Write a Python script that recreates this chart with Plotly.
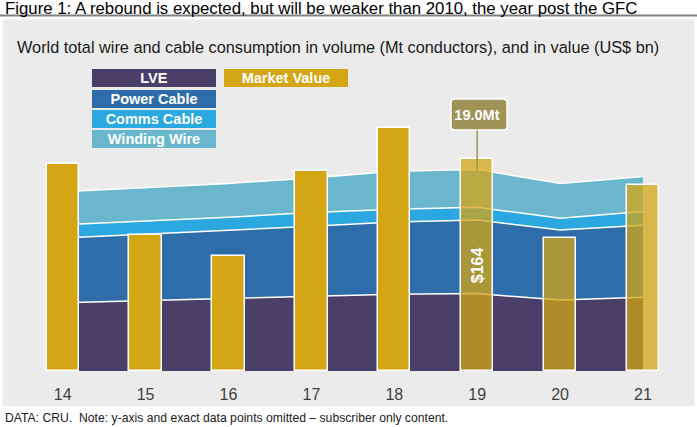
import plotly.graph_objects as go

# ---- data ----
years = ["14", "15", "16", "17", "18", "19", "20", "21"]
lve = [6.45, 6.65, 6.8, 7.05, 7.25, 7.3, 6.7, 6.95]
power_cable = [6.1, 6.25, 6.45, 6.6, 6.8, 6.95, 6.6, 6.8]
comms_cable = [1.25, 1.25, 1.25, 1.3, 1.2, 1.2, 1.1, 1.3]
winding_wire = [3.1, 3.15, 3.2, 3.25, 3.6, 3.55, 3.3, 3.3]
market_value = [160, 105, 89, 155, 188, 164, 103, 144]
forecast = [False, False, False, False, False, True, True, True]
callout_year = "19"

# ---- styling ----
W, H = 697, 427
FONT = "Liberation Sans, Arial, sans-serif"
C_LVE = "#4A3F68"
C_POWER = "#2E6DAA"
C_COMMS = "#2AA8DF"
C_WIND = "#69B6CD"
C_GOLD = "212,165,20"
C_OLIVE = "#9F9358"
PANEL = "#EBEBEB"


def px(x):
    return x / W


def py(y):
    return 1 - y / H


fig = go.Figure()

layers = [("LVE", lve, C_LVE), ("Power Cable", power_cable, C_POWER),
          ("Comms Cable", comms_cable, C_COMMS), ("Winding Wire", winding_wire, C_WIND)]
for name, vals, col in layers:
    fig.add_trace(go.Scatter(
        x=years, y=vals, name=name, stackgroup="vol", mode="lines",
        line=dict(color="white", width=1.5), fillcolor=col, hoverinfo="skip",
        showlegend=False, yaxis="y"))

bar_colors = [f"rgba({C_GOLD},0.75)" if f else f"rgba({C_GOLD},1)" for f in forecast]
fig.add_trace(go.Bar(
    x=years, y=market_value, name="Market Value", width=0.39,
    marker=dict(color=bar_colors, line=dict(color="white", width=1.5)),
    yaxis="y2", showlegend=False, hoverinfo="skip"))

# axes geometry
plot_top, plot_bottom = 60, 371
plot_left, plot_right = 20, 685
vol_per_px = 0.09434
val_per_px = 0.7736
plot_h = plot_bottom - plot_top
idx_first_px = 62.7
step_px = 82.9
x_lo = -(idx_first_px - plot_left) / step_px
x_hi = x_lo + (plot_right - plot_left) / step_px

fig.update_layout(
    width=W, height=H,
    margin=dict(l=0, r=0, t=0, b=0),
    paper_bgcolor="white", plot_bgcolor="rgba(0,0,0,0)",
    bargap=0,
    font=dict(family=FONT),
    xaxis=dict(domain=[px(plot_left), px(plot_right)], range=[x_lo, x_hi],
               type="category", tickvals=years, ticktext=years,
               showgrid=False, zeroline=False, showline=False,
               ticks="outside", ticklen=9, tickcolor="rgba(0,0,0,0)",
               tickfont=dict(size=16, color="#404040", family=FONT), automargin=False),
    yaxis=dict(domain=[py(plot_bottom), py(plot_top)], range=[0, plot_h * vol_per_px],
               visible=False, showgrid=False, zeroline=False),
    yaxis2=dict(domain=[py(plot_bottom), py(plot_top)], overlaying="y",
                range=[0, plot_h * val_per_px], visible=False, showgrid=False,
                zeroline=False),
    showlegend=False,
)

shapes = []
# grey panel
shapes.append(dict(type="rect", xref="paper", yref="paper", layer="below",
                   x0=px(2.7), x1=px(694.5), y0=py(406), y1=py(19.5),
                   fillcolor=PANEL, line=dict(width=0)))
# line under title
shapes.append(dict(type="line", xref="paper", yref="paper", layer="below",
                   x0=0, x1=1, y0=py(15.6), y1=py(15.6),
                   line=dict(color="#808080", width=2)))

# callout box (rounded)
bx0, bx1, by0, by1, r = 451, 507, 99, 130, 4
path = (f"M {px(bx0 + r)},{py(by0)} L {px(bx1 - r)},{py(by0)} "
        f"Q {px(bx1)},{py(by0)} {px(bx1)},{py(by0 + r)} L {px(bx1)},{py(by1 - r)} "
        f"Q {px(bx1)},{py(by1)} {px(bx1 - r)},{py(by1)} L {px(bx0 + r)},{py(by1)} "
        f"Q {px(bx0)},{py(by1)} {px(bx0)},{py(by1 - r)} L {px(bx0)},{py(by0 + r)} "
        f"Q {px(bx0)},{py(by0)} {px(bx0 + r)},{py(by0)} Z")
shapes.append(dict(type="path", xref="paper", yref="paper", path=path,
                   fillcolor=C_OLIVE, line=dict(color="white", width=1.5), layer="above"))
fig.update_layout(shapes=shapes)

ann = []
ann.append(dict(xref="paper", yref="paper", x=px(3), y=py(8.4), xanchor="left",
                yanchor="middle", showarrow=False,
                text="Figure 1: A rebound is expected, but will be weaker than 2010, the year post the GFC",
                font=dict(size=16.8, color="#000000", family=FONT)))
ann.append(dict(xref="paper", yref="paper", x=px(15), y=py(47), xanchor="left",
                yanchor="middle", showarrow=False,
                text="World total wire and cable consumption in volume (Mt conductors), and in value (US$ bn)",
                font=dict(size=16.3, color="#1a1a1a", family=FONT)))
ann.append(dict(xref="paper", yref="paper", x=px(3), y=py(418), xanchor="left",
                yanchor="middle", showarrow=False,
                text="DATA: CRU.  Note: y-axis and exact data points omitted \u2013 subscriber only content.",
                font=dict(size=12.2, color="#222222", family=FONT)))

# custom legend boxes
legend_items = [("LVE", C_LVE, 154, 78.5), ("Power Cable", C_POWER, 154, 98.7),
                ("Comms Cable", C_COMMS, 154, 119.0), ("Winding Wire", C_WIND, 154, 139.3),
                ("Market Value", f"rgb({C_GOLD})", 286.3, 78.5)]
for txt, col, cx, cy in legend_items:
    ann.append(dict(xref="paper", yref="paper", x=px(cx), y=py(cy), xanchor="center",
                    yanchor="middle", showarrow=False, text=f"<b>{txt}</b>",
                    bgcolor=col, width=124, height=18, borderpad=0, borderwidth=0,
                    font=dict(size=14.5, color="white", family=FONT)))

# callout for total volume
ci = years.index(callout_year)
total = lve[ci] + power_cable[ci] + comms_cable[ci] + winding_wire[ci]
head_px = plot_bottom - total / vol_per_px
ann.append(dict(x=ci, y=total, xref="x", yref="y",
                text=f"<b>{total:.1f}Mt</b>", showarrow=True, arrowhead=0,
                arrowwidth=1.5, arrowcolor=C_OLIVE, ax=0, ay=(by0 + by1) / 2 - head_px,
                width=bx1 - bx0, height=by1 - by0, borderpad=0, standoff=0,
                font=dict(size=14.5, color="white", family=FONT)))
# value label in bar
ann.append(dict(x=ci, y=market_value[ci] / 2, xref="x", yref="y2",
                text=f"<b>${market_value[ci]:.0f}</b>", showarrow=False, textangle=-90,
                font=dict(size=16, color="white", family=FONT)))
fig.update_layout(annotations=ann)

fig.write_html("out.html", config={"displayModeBar": False},
               post_script="document.body.style.margin='0px';")
